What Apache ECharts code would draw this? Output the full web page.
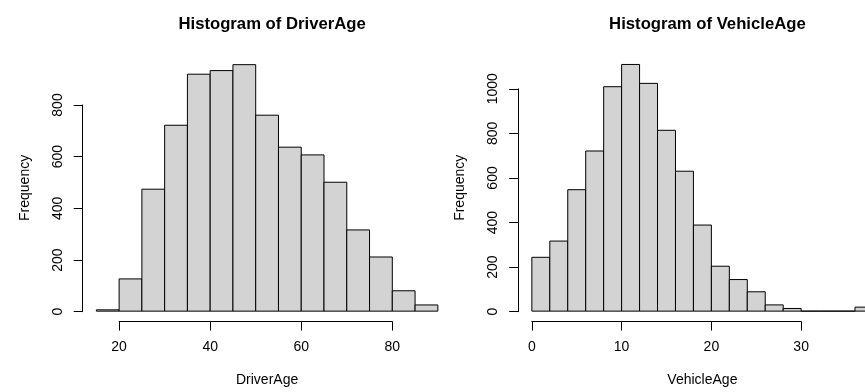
<!DOCTYPE html>
<html>
<head>
<meta charset="utf-8">
<script src="https://cdn.jsdelivr.net/npm/echarts@6/dist/echarts.min.js"></script>
<style>html,body{margin:0;padding:0;background:#fff;}#c{width:865px;height:392px;}</style>
</head>
<body>
<div id="c"></div>
<script>
// ---- data ----
const driverBreaks = [15, 20, 25, 30, 35, 40, 45, 50, 55, 60, 65, 70, 75, 80, 85, 90];
const driverCounts = [5, 125, 473, 721, 919, 933, 956, 760, 636, 606, 500, 315, 210, 79, 24];
const vehicleBreaks = [0, 2, 4, 6, 8, 10, 12, 14, 16, 18, 20, 22, 24, 26, 28, 30, 32, 34, 36, 38];
const vehicleCounts = [242, 315, 546, 720, 1009, 1109, 1024, 813, 629, 387, 202, 142, 87, 28, 12, 0, 0, 0, 18];
const driverXTicks = [20, 40, 60, 80];
const driverYTicks = [0, 200, 400, 600, 800];
const vehicleXTicks = [0, 10, 20, 30];
const vehicleYTicks = [0, 200, 400, 600, 800, 1000];
const titles = ['Histogram of DriverAge', 'Histogram of VehicleAge'];
const xNames = ['DriverAge', 'VehicleAge'];
const yName = 'Frequency';

// ---- layout ----
const FONT = '"Liberation Sans", Arial, Helvetica, sans-serif';
const CANVAS_W = 865;
const panels = [
  {left: 82.7, right: 451.5, top: 54.8, bottom: 321.6, breaks: driverBreaks, counts: driverCounts, xt: driverXTicks, yt: driverYTicks},
  {left: 518.2, right: 886.6, top: 54.6, bottom: 321.6, breaks: vehicleBreaks, counts: vehicleCounts, xt: vehicleXTicks, yt: vehicleYTicks}
];

const option = {
  animation: false,
  backgroundColor: '#fff',
  title: [], grid: [], xAxis: [], yAxis: [], series: []
};

panels.forEach(function (p, i) {
  const b = p.breaks;
  const xr = b[b.length - 1] - b[0];
  const xmin = b[0] - 0.04 * xr, xmaxFull = b[b.length - 1] + 0.04 * xr;
  const cmax = Math.max.apply(null, p.counts);
  const ymin = -0.04 * cmax, ymax = 1.04 * cmax;
  const Wfull = p.right - p.left, H = p.bottom - p.top;
  const pxPerUnit = Wfull / (xmaxFull - xmin);
  // the reference figure is cut at the page edge: keep the same scale, show the visible part
  const visRight = Math.min(p.right, CANVAS_W);
  const W = visRight - p.left;
  const xmax = xmin + W / pxPerUnit;
  const nameShift = (p.right - visRight) / 2; // keep axis title centred on the full plot region
  const px = function (v) { return p.left + (v - xmin) * pxPerUnit; };
  const py = function (v) { return p.bottom - (v - ymin) / (ymax - ymin) * H; };

  // data grid
  const g0 = option.grid.length;
  option.grid.push({left: p.left, top: p.top, width: W, height: H, containLabel: false});
  option.xAxis.push({
    gridIndex: g0, type: 'value', min: xmin, max: xmax,
    axisLine: {show: false}, axisTick: {show: false}, axisLabel: {show: false}, splitLine: {show: false},
    name: xNames[i], nameLocation: 'middle', nameGap: 52,
    nameTextStyle: {fontFamily: FONT, fontSize: 14, color: '#000', padding: [0, 0, 0, 2 * nameShift]}
  });
  option.yAxis.push({
    gridIndex: g0, type: 'value', min: ymin, max: ymax,
    axisLine: {show: false}, axisTick: {show: false}, axisLabel: {show: false}, splitLine: {show: false},
    name: yName, nameLocation: 'middle', nameGap: 51, nameRotate: 90,
    nameTextStyle: {fontFamily: FONT, fontSize: 14, color: '#000'}
  });
  const data = [];
  for (let k = 0; k < p.counts.length; k++) data.push([b[k], b[k + 1], p.counts[k]]);
  option.series.push({
    type: 'custom', xAxisIndex: g0, yAxisIndex: g0,
    encode: {x: [0, 1], y: 2},
    clip: false,
    data: data,
    renderItem: function (params, api) {
      const a = api.coord([api.value(0), 0]);
      const c = api.coord([api.value(1), api.value(2)]);
      return {
        type: 'rect',
        shape: {x: a[0], y: c[1], width: c[0] - a[0], height: a[1] - c[1]},
        style: {fill: '#d3d3d3', stroke: '#000', lineWidth: 1}
      };
    }
  });

  // x axis grid (spans tick range only)
  const xt = p.xt;
  const g1 = option.grid.length;
  option.grid.push({left: px(xt[0]), top: p.top, width: px(xt[xt.length - 1]) - px(xt[0]), height: H});
  option.xAxis.push({
    gridIndex: g1, type: 'value', min: xt[0], max: xt[xt.length - 1], interval: xt[1] - xt[0],
    axisLine: {show: true, lineStyle: {color: '#000', width: 1}},
    axisTick: {show: true, length: 9, inside: false, lineStyle: {color: '#000'}},
    axisLabel: {show: true, margin: 19, fontFamily: FONT, fontSize: 14, color: '#000',
      showMinLabel: true, showMaxLabel: true, formatter: function (v) { return String(v); }},
    splitLine: {show: false}
  });
  option.yAxis.push({gridIndex: g1, type: 'value', show: false, min: 0, max: 1});

  // y axis grid (spans tick range only)
  const yt = p.yt;
  const g2 = option.grid.length;
  option.grid.push({left: p.left, top: py(yt[yt.length - 1]), width: 10, height: py(yt[0]) - py(yt[yt.length - 1])});
  option.xAxis.push({gridIndex: g2, type: 'value', show: false, min: 0, max: 1});
  option.yAxis.push({
    gridIndex: g2, type: 'value', min: yt[0], max: yt[yt.length - 1], interval: yt[1] - yt[0],
    axisLine: {show: true, lineStyle: {color: '#000', width: 1}},
    axisTick: {show: true, length: 9, inside: false, lineStyle: {color: '#000'}},
    axisLabel: {show: true, rotate: 90, margin: 18, fontFamily: FONT, fontSize: 14, color: '#000',
      showMinLabel: true, showMaxLabel: true, formatter: function (v) { return String(v); }},
    splitLine: {show: false}
  });

  option.title.push({
    text: titles[i], left: (p.left + p.right) / 2, top: 11, textAlign: 'center',
    textStyle: {fontFamily: FONT, fontSize: 16.7, fontWeight: 'bold', color: '#000'}
  });
});

const chart = echarts.init(document.getElementById('c'), null, {renderer: 'canvas'});
chart.setOption(option);
</script>
</body>
</html>
